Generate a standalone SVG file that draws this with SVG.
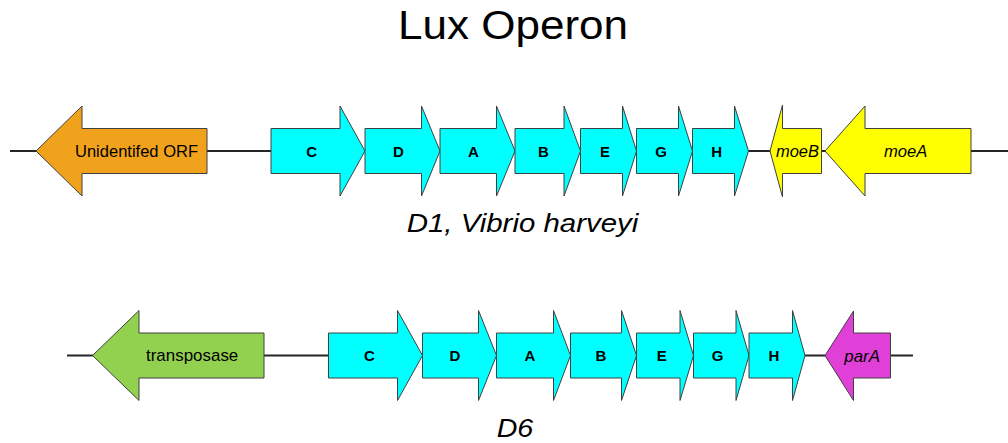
<svg xmlns="http://www.w3.org/2000/svg" width="1008" height="443" viewBox="0 0 1008 443">
<style>
text{font-family:"Liberation Sans",Arial,sans-serif;fill:#000}
.gene{stroke:#404040;stroke-width:1}
.cyan{fill:#00FFFF}
.orange{fill:#F0A21C}
.yellow{fill:#FFFF00}
.green{fill:#92D050}
.magenta{fill:#E040D8}
.lbl{font-size:15px;font-weight:bold;text-anchor:middle}
.nm{font-size:17px}
.it{font-style:italic}
.line{stroke:#262626;stroke-width:2;fill:none}
</style>
<rect width="1008" height="443" fill="#fff"/>
<text x="398" y="39" font-size="40" textLength="230" lengthAdjust="spacingAndGlyphs">Lux Operon</text>
<g id="connectors">
<line class="line" x1="10" y1="151" x2="1008" y2="151"/>
<line class="line" x1="67" y1="355.5" x2="913" y2="355.5"/>
</g>
<g id="row1">
<g id="orf1"><polygon class="gene orange" points="36,151 82,106 82,128.5 207,128.5 207,173.5 82,173.5 82,196"/><text class="nm" x="75" y="157" textLength="123" lengthAdjust="spacingAndGlyphs">Unidentifed ORF</text></g>
<g id="c1"><polygon class="gene cyan" points="271,128.5 340,128.5 340,106 365,151 340,196 340,173.5 271,173.5"/><text class="lbl" x="311.7" y="156.5">C</text></g>
<g id="d1"><polygon class="gene cyan" points="365,128.5 421.5,128.5 421.5,106 440,151 421.5,196 421.5,173.5 365,173.5"/><text class="lbl" x="398.3" y="156.5">D</text></g>
<g id="a1"><polygon class="gene cyan" points="440,128.5 496.5,128.5 496.5,106 515,151 496.5,196 496.5,173.5 440,173.5"/><text class="lbl" x="473.3" y="156.5">A</text></g>
<g id="b1"><polygon class="gene cyan" points="515,128.5 564,128.5 564,106 580.5,151 564,196 564,173.5 515,173.5"/><text class="lbl" x="543.3" y="156.5">B</text></g>
<g id="e1"><polygon class="gene cyan" points="580.5,128.5 622.5,128.5 622.5,106 636.5,151 622.5,196 622.5,173.5 580.5,173.5"/><text class="lbl" x="605" y="156.5">E</text></g>
<g id="g1"><polygon class="gene cyan" points="636.5,128.5 678.5,128.5 678.5,106 692.5,151 678.5,196 678.5,173.5 636.5,173.5"/><text class="lbl" x="661" y="156.5">G</text></g>
<g id="h1"><polygon class="gene cyan" points="692.5,128.5 734.5,128.5 734.5,106 748.5,151 734.5,196 734.5,173.5 692.5,173.5"/><text class="lbl" x="716.7" y="156.5">H</text></g>
<g id="moeB"><polygon class="gene yellow" points="770,151 782.5,105 782.5,128.5 821.5,128.5 821.5,173.5 782.5,173.5 782.5,197"/><text class="nm it" x="776" y="157" textLength="43" lengthAdjust="spacingAndGlyphs">moeB</text></g>
<g id="moeA"><polygon class="gene yellow" points="825,151 865,106 865,128.5 971,128.5 971,173.5 865,173.5 865,196"/><text class="nm it" x="884" y="157" textLength="43.3" lengthAdjust="spacingAndGlyphs">moeA</text></g>
</g>
<text class="it" x="406.7" y="231.7" font-size="26.5" textLength="231.6" lengthAdjust="spacingAndGlyphs">D1, Vibrio harveyi</text>
<g id="row2">
<g id="transposase"><polygon class="gene green" points="92.5,355.5 139,310.5 139,333 264,333 264,378 139,378 139,400.5"/><text class="nm" x="146" y="361" textLength="92.3" lengthAdjust="spacingAndGlyphs">transposase</text></g>
<g id="c2"><polygon class="gene cyan" points="328.5,333 397.5,333 397.5,310.5 422.5,355.5 397.5,400.5 397.5,378 328.5,378"/><text class="lbl" x="369.3" y="361">C</text></g>
<g id="d2"><polygon class="gene cyan" points="422.5,333 478.5,333 478.5,310.5 496.5,355.5 478.5,400.5 478.5,378 422.5,378"/><text class="lbl" x="455" y="361">D</text></g>
<g id="a2"><polygon class="gene cyan" points="496.5,333 553.5,333 553.5,310.5 570.5,355.5 553.5,400.5 553.5,378 496.5,378"/><text class="lbl" x="530" y="361">A</text></g>
<g id="b2"><polygon class="gene cyan" points="570.5,333 621.5,333 621.5,310.5 636.5,355.5 621.5,400.5 621.5,378 570.5,378"/><text class="lbl" x="601" y="361">B</text></g>
<g id="e2"><polygon class="gene cyan" points="636.5,333 680,333 680,310.5 693.5,355.5 680,400.5 680,378 636.5,378"/><text class="lbl" x="661.7" y="361">E</text></g>
<g id="g2"><polygon class="gene cyan" points="693.5,333 736,333 736,310.5 749,355.5 736,400.5 736,378 693.5,378"/><text class="lbl" x="717.7" y="361">G</text></g>
<g id="h2"><polygon class="gene cyan" points="749,333 792.5,333 792.5,310.5 805,355.5 792.5,400.5 792.5,378 749,378"/><text class="lbl" x="774" y="361">H</text></g>
<g id="parA"><polygon class="gene magenta" points="825,355.5 853.5,311 853.5,333 890.5,333 890.5,378 853.5,378 853.5,400.5"/><text class="nm it" x="844.3" y="361.5" textLength="35.7" lengthAdjust="spacingAndGlyphs">parA</text></g>
</g>
<text class="it" x="496.7" y="436.7" font-size="26" textLength="36.6" lengthAdjust="spacingAndGlyphs">D6</text>
</svg>
